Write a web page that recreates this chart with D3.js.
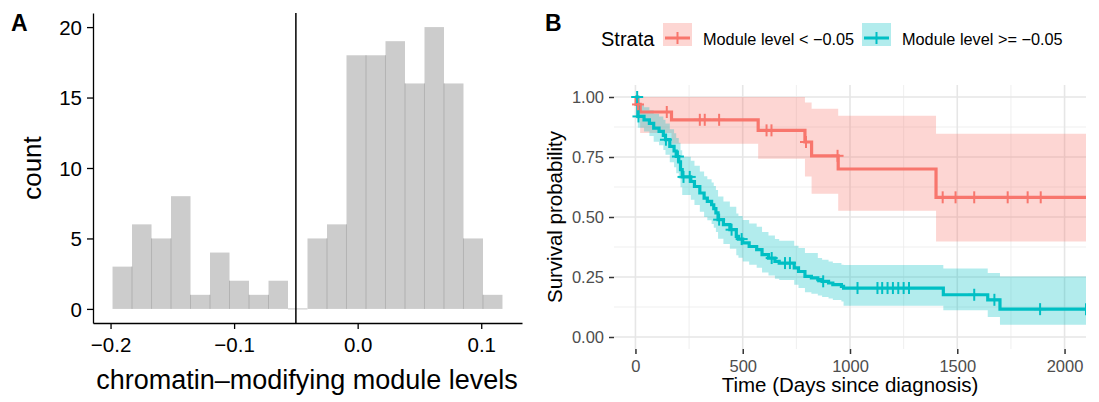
<!DOCTYPE html>
<html>
<head>
<meta charset="utf-8">
<script src="https://cdn.jsdelivr.net/npm/d3@7"></script>
<style>
  body { margin: 0; background: #fff; }
  svg { font-family: "Liberation Sans", Arial, Helvetica, sans-serif; }
</style>
</head>
<body>
<div id="chart"></div>
<script>
// ---- panel A: histogram of module levels ----
const histCounts = [3, 6, 5, 8, 1, 4, 2, 1, 2, 0, 5, 6, 18, 18, 19, 16, 20, 16, 5, 1];
const binStart = -0.1984;
const binWidth = 0.01578;
const cutoff = -0.05;
const histXTicks = [-0.2, -0.1, 0.0, 0.1];
const histYTicks = [0, 5, 10, 15, 20];

// ---- panel B: Kaplan-Meier ----
const kmXTicks = [0, 500, 1000, 1500, 2000];
const kmXMinor = [250, 750, 1250, 1750];
const kmYTicks = [0, 0.25, 0.5, 0.75, 1];
const kmYMinor = [0.125, 0.375, 0.625, 0.875];

const strata = ["Module level < \u22120.05", "Module level >= \u22120.05"];
const strataColors = ["#F8766D", "#00BFC4"];

// low group: step times, survival, lower / upper CI
const lowTime  = [0, 3, 22, 168, 572, 790, 821, 945, 1401, 2150];
const lowSurv  = [1, 0.969, 0.9375, 0.905, 0.861, 0.8125, 0.755, 0.70, 0.582, 0.582];
const lowLower = [1, 0.91, 0.85, 0.805, 0.743, 0.669, 0.597, 0.526, 0.398, 0.398];
const lowUpper = [1, 1, 1, 1, 1, 0.977, 0.951, 0.922, 0.847, 0.847];
const lowCensor = [12, 146, 300, 323, 390, 611, 634, 795, 942, 1432, 1492, 1579, 1735, 1828, 1889];

// high group
const highTime  = [0, 11, 40, 65, 85, 110, 130, 140, 160, 180, 190, 202, 210, 218, 258, 275, 300,
                   320, 335, 355, 365, 375, 385, 410, 440, 470, 480, 500, 530, 565, 590, 620, 650,
                   670, 740, 760, 790, 820, 850, 870, 900, 920, 960, 970, 1435, 1642, 1699, 2150];
const highSurv  = [1, 0.919, 0.905, 0.89, 0.87, 0.857, 0.84, 0.822, 0.794, 0.775, 0.752, 0.73, 0.697,
                   0.667, 0.648, 0.627, 0.6, 0.579, 0.565, 0.551, 0.535, 0.517, 0.489, 0.468, 0.447,
                   0.419, 0.408, 0.392, 0.377, 0.364, 0.343, 0.329, 0.315, 0.308, 0.288, 0.273, 0.253,
                   0.246, 0.239, 0.232, 0.225, 0.218, 0.211, 0.204, 0.176, 0.155, 0.116, 0.116];
const highLower = [1, 0.872, 0.856, 0.838, 0.814, 0.799, 0.779, 0.759, 0.728, 0.707, 0.682, 0.659, 0.624,
                   0.592, 0.572, 0.55, 0.522, 0.5, 0.486, 0.471, 0.455, 0.437, 0.409, 0.388, 0.368,
                   0.341, 0.33, 0.315, 0.301, 0.289, 0.269, 0.256, 0.243, 0.237, 0.218, 0.204, 0.186,
                   0.18, 0.173, 0.167, 0.16, 0.154, 0.148, 0.13, 0.111, 0.083, 0.051, 0.051];
const highUpper = [1, 0.968, 0.957, 0.945, 0.93, 0.919, 0.905, 0.89, 0.866, 0.849, 0.829, 0.809, 0.778,
                   0.751, 0.734, 0.714, 0.69, 0.67, 0.657, 0.644, 0.629, 0.612, 0.585, 0.565, 0.543,
                   0.515, 0.504, 0.488, 0.473, 0.459, 0.437, 0.423, 0.408, 0.401, 0.38, 0.371, 0.35,
                   0.35, 0.329, 0.322, 0.315, 0.308, 0.301, 0.3, 0.285, 0.267, 0.252, 0.252];
const highCensor = [8, 14, 142, 198, 224, 253, 390, 448, 495, 635, 697, 720, 875, 1035, 1128, 1150,
                    1175, 1200, 1225, 1250, 1275, 1579, 1673, 1886, 2100];

const W = 1099, H = 402;
const svg = d3.select("#chart").append("svg").attr("width", W).attr("height", H);

// ================= Panel A =================
const xA = d3.scaleLinear().domain([-0.2142, 0.1330]).range([93, 522]);
const yA = d3.scaleLinear().domain([-1, 21]).range([323, 13]);

const bins = histCounts.map((c, i) => ({ x0: binStart + i * binWidth, x1: binStart + (i + 1) * binWidth, count: c }));

const gA = svg.append("g");
gA.selectAll("rect.bar")
  .data(bins)
  .join("rect")
    .attr("class", "bar")
    .attr("x", d => xA(d.x0))
    .attr("width", d => xA(d.x1) - xA(d.x0))
    .attr("y", d => yA(d.count))
    .attr("height", d => yA(0) - yA(d.count))
    .attr("fill", "#cccccc");

// empty bin shows as a flat sliver
gA.selectAll("line.zero")
  .data(bins.filter(d => d.count === 0))
  .join("line")
    .attr("x1", d => xA(d.x0)).attr("x2", d => xA(d.x1))
    .attr("y1", yA(0)).attr("y2", yA(0))
    .attr("stroke", "#c4c4c4").attr("stroke-width", 1);

// seams between neighbouring bars
gA.selectAll("line.seam")
  .data(bins.slice(1).map((d, i) => ({ x: d.x0, h: Math.min(d.count, bins[i].count) })).filter(d => d.h > 0))
  .join("line")
    .attr("x1", d => xA(d.x)).attr("x2", d => xA(d.x))
    .attr("y1", yA(0)).attr("y2", d => yA(d.h))
    .attr("stroke", "#aaaaaa").attr("stroke-width", 0.8);

// cutoff line
gA.append("line")
  .attr("x1", xA(cutoff)).attr("x2", xA(cutoff))
  .attr("y1", yA.range()[1]).attr("y2", yA.range()[0])
  .attr("stroke", "#000").attr("stroke-width", 1.5);

const axA_x = gA.append("g").attr("transform", `translate(0,${yA.range()[0]})`)
  .call(d3.axisBottom(xA).tickValues(histXTicks).tickFormat(d3.format(".1f")).tickSize(6).tickSizeOuter(0).tickPadding(5));
const axA_y = gA.append("g").attr("transform", `translate(${xA.range()[0]},0)`)
  .call(d3.axisLeft(yA).tickValues(histYTicks).tickFormat(d3.format("d")).tickSize(6).tickSizeOuter(0).tickPadding(5));
[axA_x, axA_y].forEach(ax => {
  ax.select(".domain").attr("stroke", "#000").attr("stroke-width", 1.3);
  ax.selectAll(".tick line").attr("stroke", "#000").attr("stroke-width", 1.3);
  ax.selectAll(".tick text").attr("fill", "#000").style("font-size", "20.5px");
});
axA_x.selectAll(".tick text").attr("dy", "0.9em");
axA_y.selectAll(".tick text").attr("dy", "0.36em");

gA.append("text")
  .attr("x", 307).attr("y", 389)
  .attr("text-anchor", "middle").style("font-size", "27px")
  .text("chromatin\u2013modifying module levels");
gA.append("text")
  .attr("transform", `translate(41,${(yA.range()[0] + yA.range()[1]) / 2}) rotate(-90)`)
  .attr("text-anchor", "middle").style("font-size", "26px")
  .text("count");
gA.append("text").attr("x", 11).attr("y", 31)
  .style("font-size", "23px").style("font-weight", "bold").text("A");

// ================= Panel B =================
const xB = d3.scaleLinear().domain([-100, 2100]).range([614, 1086]);
const yB = d3.scaleLinear().domain([-0.05, 1.05]).range([349, 85]);
const gB = svg.append("g");

svg.append("defs").append("clipPath").attr("id", "clipB")
  .append("rect")
    .attr("x", xB.range()[0]).attr("y", yB.range()[1])
    .attr("width", xB.range()[1] - xB.range()[0])
    .attr("height", yB.range()[0] - yB.range()[1]);

// grid
const grid = gB.append("g");
grid.selectAll("line.ymin").data(kmYMinor).join("line")
  .attr("x1", xB.range()[0]).attr("x2", xB.range()[1])
  .attr("y1", d => yB(d)).attr("y2", d => yB(d))
  .attr("stroke", "#ebebeb").attr("stroke-width", 0.8);
grid.selectAll("line.xmin").data(kmXMinor).join("line")
  .attr("y1", yB.range()[0]).attr("y2", yB.range()[1])
  .attr("x1", d => xB(d)).attr("x2", d => xB(d))
  .attr("stroke", "#ebebeb").attr("stroke-width", 0.8);
grid.selectAll("line.ymaj").data(kmYTicks).join("line")
  .attr("x1", xB.range()[0]).attr("x2", xB.range()[1])
  .attr("y1", d => yB(d)).attr("y2", d => yB(d))
  .attr("stroke", "#e6e6e6").attr("stroke-width", 1.6);
grid.selectAll("line.xmaj").data(kmXTicks).join("line")
  .attr("y1", yB.range()[0]).attr("y2", yB.range()[1])
  .attr("x1", d => xB(d)).attr("x2", d => xB(d))
  .attr("stroke", "#e6e6e6").attr("stroke-width", 1.6);

const groups = [
  { time: lowTime, surv: lowSurv, lower: lowLower, upper: lowUpper, censor: lowCensor, color: strataColors[0] },
  { time: highTime, surv: highSurv, lower: highLower, upper: highUpper, censor: highCensor, color: strataColors[1] }
];

const plot = gB.append("g").attr("clip-path", "url(#clipB)");

const area = d3.area().curve(d3.curveStepAfter)
  .x(d => xB(d.t)).y0(d => yB(d.lo)).y1(d => yB(d.hi));
const line = d3.line().curve(d3.curveStepAfter)
  .x(d => xB(d.t)).y(d => yB(d.s));

const rows = groups.map(g => g.time.map((t, i) => ({ t, s: g.surv[i], lo: g.lower[i], hi: g.upper[i] })));

// survival value at time t (for placing censor marks)
function survAt(g, t) {
  let s = 1;
  g.time.forEach((tt, i) => { if (tt <= t) s = g.surv[i]; });
  return s;
}

groups.forEach((g, k) => {
  plot.append("path").datum(rows[k]).attr("d", area)
    .attr("fill", g.color).attr("fill-opacity", 0.3);
});
groups.forEach((g, k) => {
  plot.append("path").datum(rows[k]).attr("d", line)
    .attr("fill", "none").attr("stroke", g.color).attr("stroke-width", 3.2);
});
groups.forEach(g => {
  const marks = plot.append("g").selectAll("g").data(g.censor).join("g")
    .attr("transform", d => `translate(${xB(d)},${yB(survAt(g, d))})`);
  marks.append("line").attr("x1", -6).attr("x2", 6).attr("y1", 0).attr("y2", 0)
    .attr("stroke", g.color).attr("stroke-width", 2);
  marks.append("line").attr("x1", 0).attr("x2", 0).attr("y1", -6).attr("y2", 6)
    .attr("stroke", g.color).attr("stroke-width", 2);
});

// axes
const axB_x = gB.append("g").attr("transform", `translate(0,${yB.range()[0]})`)
  .call(d3.axisBottom(xB).tickValues(kmXTicks).tickFormat(d3.format("d")).tickSize(5).tickPadding(4));
const axB_y = gB.append("g").attr("transform", `translate(${xB.range()[0]},0)`)
  .call(d3.axisLeft(yB).tickValues(kmYTicks).tickFormat(d3.format(".2f")).tickSize(5).tickPadding(5));
[axB_x, axB_y].forEach(ax => {
  ax.select(".domain").remove();
  ax.selectAll(".tick line").attr("stroke", "#333").attr("stroke-width", 1.5);
  ax.selectAll(".tick text").attr("fill", "#4d4d4d").style("font-size", "16.5px");
});
axB_x.selectAll(".tick text").attr("dy", "0.85em");
axB_y.selectAll(".tick text").attr("dy", "0.36em");

gB.append("text")
  .attr("x", (xB.range()[0] + xB.range()[1]) / 2).attr("y", 392)
  .attr("text-anchor", "middle").style("font-size", "20.5px")
  .text("Time (Days since diagnosis)");
gB.append("text")
  .attr("transform", `translate(562,${(yB.range()[0] + yB.range()[1]) / 2}) rotate(-90)`)
  .attr("text-anchor", "middle").style("font-size", "20.5px")
  .text("Survival probability");
gB.append("text").attr("x", 545).attr("y", 31)
  .style("font-size", "23px").style("font-weight", "bold").text("B");

// legend
const legend = gB.append("g");
legend.append("text").attr("x", 601).attr("y", 46).style("font-size", "20px").text("Strata");
const keyX = [663, 862];
strata.forEach((name, i) => {
  const k = legend.append("g").attr("transform", `translate(${keyX[i]},23)`);
  k.append("rect").attr("width", 29).attr("height", 23)
    .attr("fill", strataColors[i]).attr("fill-opacity", 0.3);
  k.append("line").attr("x1", 2).attr("x2", 27).attr("y1", 15).attr("y2", 15)
    .attr("stroke", strataColors[i]).attr("stroke-width", 3);
  k.append("line").attr("x1", 14.5).attr("x2", 14.5).attr("y1", 9).attr("y2", 21)
    .attr("stroke", strataColors[i]).attr("stroke-width", 2);
  k.append("text").attr("x", 40).attr("y", 22).style("font-size", "16.3px").text(name);
});
</script>
</body>
</html>
